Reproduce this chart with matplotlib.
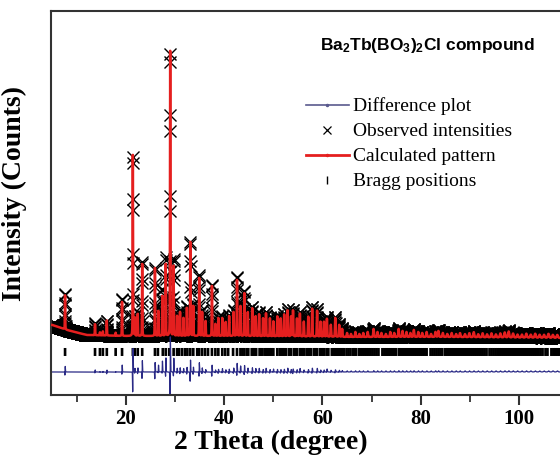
import numpy as np
import matplotlib.pyplot as plt
from matplotlib.lines import Line2D

plt.rcParams["mathtext.fontset"] = "custom"
plt.rcParams["mathtext.rm"] = "Liberation Sans:bold"
plt.rcParams["mathtext.default"] = "rm"

# reflections: 2theta (deg), calculated and observed peak heights (arb. units)
peak_pos = [7.6, 13.7, 14.7, 15.3, 16.1, 17.9, 19.2, 21.4, 21.8, 22.4,
            23.3, 25.9, 26.6, 27.4, 28.1, 29.0, 29.7, 30.4, 31.0, 31.7,
            32.4, 33.1, 33.7, 34.9, 35.5, 36.2, 37.5, 38.2, 38.8, 39.6,
            40.3, 41.0, 41.9, 42.6, 43.3, 44.1, 44.8, 45.7, 46.4, 47.1,
            47.9, 48.5, 49.3, 50.0, 50.8, 51.5, 52.2, 52.9, 53.6, 54.0,
            54.8, 55.4, 56.2, 57.1, 57.9, 58.9, 59.6, 60.3, 60.9, 61.7,
            62.6, 63.4, 64.0, 65.0, 65.8, 66.7, 67.5, 68.3, 69.2, 70.4,
            71.2, 72.0, 72.9, 73.8, 74.6, 75.5, 76.3, 77.1, 77.9, 78.6,
            79.5, 80.3, 81.2, 82.1, 83.0, 83.6, 84.5, 85.4, 86.3, 87.2,
            88.0, 89.0, 89.9, 90.8, 91.7, 92.6, 93.5, 94.4, 95.3, 96.2,
            97.1, 97.9, 98.8, 99.7, 100.6, 101.5, 102.4, 103.3, 104.2, 105.1,
            106.0, 106.9, 107.8]
peak_calc = [34, 11, 3, 4, 15, 3, 34, 181, 18, 22,
             72, 68, 25, 40, 72, 285, 70, 20, 24, 18,
             28, 94, 30, 58, 24, 15, 50, 12, 18, 18,
             14, 20, 24, 56, 30, 43, 24, 28, 20, 22,
             18, 23, 18, 15, 20, 18, 22, 26, 20, 26,
             18, 23, 15, 20, 28, 26, 15, 15, 18, 12,
             19, 12, 8, 4, 3, 5, 3, 4, 5, 8,
             5, 4, 3, 5, 4, 8, 6, 5, 4, 7,
             5, 4, 5, 3, 5, 6, 4, 3, 4, 3,
             4, 3, 4, 5, 3, 4, 3, 4, 3, 4,
             5, 6, 4, 3, 3, 4, 3, 4, 3, 3,
             4, 3, 3]
peak_obs = [36, 12, 3, 4, 15, 3, 38, 183, 20, 24,
            76, 70, 30, 48, 80, 288, 78, 22, 26, 20,
            30, 96, 32, 62, 26, 16, 52, 13, 19, 20,
            15, 21, 26, 60, 34, 46, 26, 30, 22, 24,
            19, 25, 19, 17, 21, 19, 23, 28, 21, 27,
            19, 25, 16, 21, 30, 28, 16, 16, 20, 13,
            20, 13, 9, 5, 4, 6, 4, 5, 6, 9,
            6, 5, 4, 6, 5, 9, 7, 6, 5, 8,
            6, 5, 6, 4, 6, 7, 5, 4, 5, 4,
            5, 4, 5, 6, 4, 5, 4, 5, 4, 5,
            6, 7, 5, 4, 4, 5, 4, 5, 4, 4,
            5, 4, 4]

# background knots (2theta, level)
bg_pos = [5, 8, 12, 20, 40, 65, 85, 108.5]
bg_level = [15, 10, 5, 4, 4, 3, 3, 2]

# small zero-point offset between measured and refined pattern
zero_shift = 0.008

# Caglioti width parameters and pseudo-Voigt mixing
U, V, W = 0.05, -0.01, 0.008
eta = 0.3

bragg_pos = [7.6, 13.7, 14.7, 15.3, 16.1, 17.9, 19.2, 21.4, 21.8, 22.4,
             23.3, 25.9, 26.5, 27.5, 28.1, 28.8, 29.7, 30.4, 30.8, 31.4,
             32.0, 32.5, 33.1, 33.7, 34.5, 34.9, 35.5, 36.1, 36.7, 37.5,
             38.2, 38.8, 39.6, 40.2, 40.8, 41.8, 42.6, 43.3, 43.7, 44.1,
             44.6, 44.9, 45.6, 45.9, 46.2, 46.5, 47.2, 47.5, 47.8, 48.3,
             48.6, 48.9, 49.3, 49.6, 50.0, 50.8, 51.3, 51.6, 51.9, 52.2,
             52.6, 53.2, 53.6, 54.2, 54.5, 54.8, 55.4, 55.7, 56.0, 56.3,
             56.8, 57.1, 57.4, 57.7, 58.3, 58.6, 58.9, 59.5, 59.8, 60.1,
             60.4, 60.9, 61.2, 61.9, 62.3, 62.6, 62.9, 63.2, 63.5, 63.8,
             64.1, 64.4, 64.9, 65.3, 65.7, 66.2, 66.5, 66.8, 67.4, 67.8,
             68.2, 68.6, 69.0, 69.4, 69.8, 70.2, 70.6, 71.0, 71.4, 72.2,
             72.6, 73.0, 73.4, 73.8, 74.2, 74.6, 75.0, 75.6, 76.0, 76.4,
             76.8, 77.2, 77.6, 78.0, 78.4, 78.8, 79.2, 79.6, 80.0, 80.4,
             80.8, 81.2, 82.0, 82.4, 82.8, 83.2, 83.6, 84.0, 84.4, 85.0,
             85.4, 85.8, 86.2, 86.6, 87.0, 87.4, 87.8, 88.2, 88.6, 89.0,
             89.4, 89.8, 90.2, 90.6, 91.0, 91.4, 91.8, 92.2, 92.6, 93.0,
             93.4, 94.0, 94.4, 94.8, 95.2, 95.6, 96.0, 96.4, 96.8, 97.2,
             97.6, 98.0, 98.4, 98.8, 99.2, 99.6, 100.0, 100.4, 100.8, 101.2,
             101.6, 102.0, 102.4, 102.8, 103.2, 103.6, 104.0, 104.4, 104.8, 105.4,
             105.8, 106.6, 107.0, 107.4, 107.8, 108.2]

bragg_y = (-16, -8)
diff_offset = -32


def pseudo_voigt(x, x0, fwhm):
    u = (x - x0) / fwhm
    return eta / (1 + 4 * u ** 2) + (1 - eta) * np.exp(-4 * np.log(2) * u ** 2)


def pattern(x, heights, shift=0.0):
    y = np.interp(x, bg_pos, bg_level)
    for p, h in zip(peak_pos, heights):
        t = np.tan(np.radians(p / 2))
        fwhm = np.sqrt(U * t ** 2 + V * t + W)
        y = y + h * pseudo_voigt(x, p + shift, fwhm)
    return y


tt = np.arange(5.0, 108.5, 0.02)
y_calc = pattern(tt, peak_calc)
y_obs = pattern(tt, peak_obs, zero_shift)
y_diff = y_obs - y_calc + diff_offset

fig = plt.figure(figsize=(5.6, 4.58), dpi=100)
ax = fig.add_axes([0.091, 0.1376, 0.909, 0.8384])

ax.plot(tt, y_obs, "x", color="black", ms=8, mew=1.0, zorder=2)
ax.plot(tt, y_calc, color="#e51f1f", lw=1.8, zorder=3)
ax.vlines(bragg_pos, *bragg_y, color="black", lw=1.9, snap=False, zorder=2)
ax.plot(tt, y_diff, color="#2a2a86", lw=0.9, zorder=2)

ax.set_xlim(4.73, 108.35)
ax.set_ylim(-55, 329)
ax.set_xticks([20, 40, 60, 80, 100])
ax.set_xticks([10, 30, 50, 70, 90], minor=True)
ax.set_yticks([])
ax.tick_params(axis="x", which="major", direction="out", length=7, width=1.5,
               color="#333333", pad=3)
ax.tick_params(axis="x", which="minor", direction="out", length=5, width=1.3,
               color="#333333")
for lab in ax.get_xticklabels():
    lab.set_family("Liberation Serif")
    lab.set_fontweight("bold")
    lab.set_fontsize(15)
for side in ["left", "top", "bottom"]:
    ax.spines[side].set_linewidth(1.5)
    ax.spines[side].set_color("#333333")
ax.spines["right"].set_visible(False)

ax.set_xlabel("2 Theta (degree)", family="Liberation Serif", fontweight="bold",
              fontsize=20)
ax.xaxis.set_label_coords(0.432, -0.09)
ax.set_ylabel("Intensity (Counts)", family="Liberation Serif", fontweight="bold",
              fontsize=20)
ax.yaxis.set_label_coords(-0.047, 0.526)

ax.text(0.739, 0.911, r"Ba$_2$Tb(BO$_3$)$_2$Cl compound", transform=ax.transAxes,
        ha="center", va="center", family="Liberation Sans", fontweight="bold",
        fontsize=12.5)

handles = [
    Line2D([], [], color="#5a5a8e", lw=1.2, marker=".", ms=3),
    Line2D([], [], color="black", ls="none", marker="x", ms=6, mew=0.9),
    Line2D([], [], color="#e51f1f", lw=2, marker=".", ms=3),
    Line2D([], [], color="black", ls="none", marker="|", ms=6, mew=1),
]
labels = ["Difference plot", "Observed intensities", "Calculated pattern",
          "Bragg positions"]
ax.legend(handles, labels, loc="upper left", bbox_to_anchor=(0.474, 0.81),
          frameon=False, prop={"family": "Liberation Serif", "size": 14},
          handlelength=2.2, handletextpad=0.2, labelspacing=0.38,
          borderpad=0.2)

fig.savefig("out.png", dpi=100)
